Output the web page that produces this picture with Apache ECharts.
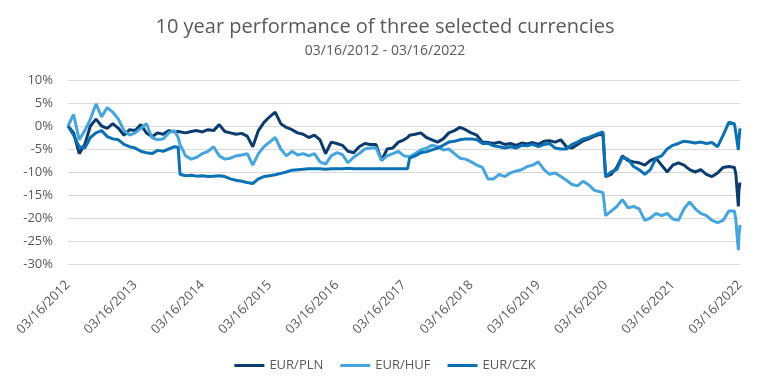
<!DOCTYPE html>
<html>
<head>
<meta charset="utf-8">
<script src="https://cdn.jsdelivr.net/npm/echarts@6/dist/echarts.min.js"></script>
<style>
html,body{margin:0;padding:0;background:#fff;}
#chart{width:770px;height:386px;}
</style>
</head>
<body>
<div id="chart"></div>
<script>
const titleText = '10 year performance of three selected currencies';
const subtitleText = '03/16/2012 - 03/16/2022';
const seriesNames = ['EUR/PLN', 'EUR/HUF', 'EUR/CZK'];
const seriesColors = ['#0c3c6e', '#45a5dc', '#0a72b4'];
const yTicks = [-30, -25, -20, -15, -10, -5, 0, 5, 10];
const xTickLabels = ['03/16/2012','03/16/2013','03/16/2014','03/16/2015','03/16/2016','03/16/2017','03/16/2018','03/16/2019','03/16/2020','03/16/2021','03/16/2022'];

const dates = [
  '2012-03-16','2012-04-16','2012-05-16','2012-06-16','2012-07-16','2012-08-16','2012-09-16','2012-10-16','2012-11-16','2012-12-16',
  '2013-01-16','2013-02-16','2013-03-16','2013-04-16','2013-05-16','2013-06-16','2013-07-16','2013-08-16','2013-09-16','2013-10-16',
  '2013-11-06','2013-11-16','2013-12-16',
  '2014-01-16','2014-02-16','2014-03-16','2014-04-16','2014-05-16','2014-06-16','2014-07-16','2014-08-16','2014-09-16','2014-10-16','2014-11-16','2014-12-16',
  '2015-01-16','2015-02-16','2015-03-16','2015-04-16','2015-05-16','2015-06-16','2015-07-16','2015-08-16','2015-09-16','2015-10-16','2015-11-16','2015-12-16',
  '2016-01-16','2016-02-16','2016-03-16','2016-04-16','2016-05-16','2016-06-16','2016-07-16','2016-08-16','2016-09-16','2016-10-16','2016-11-16','2016-12-16',
  '2017-01-16','2017-02-16','2017-03-16','2017-04-05','2017-04-16','2017-05-16','2017-06-16','2017-07-16','2017-08-16','2017-09-16','2017-10-16','2017-11-16','2017-12-16',
  '2018-01-16','2018-02-16','2018-03-16','2018-04-16','2018-05-16','2018-06-16','2018-07-16','2018-08-16','2018-09-16','2018-10-16','2018-11-16','2018-12-16',
  '2019-01-16','2019-02-16','2019-03-16','2019-04-16','2019-05-16','2019-06-16','2019-07-16','2019-08-16','2019-09-16','2019-10-16','2019-11-16','2019-12-16',
  '2020-01-16','2020-02-16','2020-03-02','2020-03-16','2020-04-16','2020-05-16','2020-06-16','2020-07-16','2020-08-16','2020-09-16','2020-10-16','2020-11-16','2020-12-16',
  '2021-01-16','2021-02-16','2021-03-16','2021-04-16','2021-05-16','2021-06-16','2021-07-16','2021-08-16','2021-09-16','2021-10-16','2021-11-16','2021-12-16',
  '2022-01-16','2022-02-16','2022-02-24','2022-03-07','2022-03-10','2022-03-16'
];

const eurPln = [
  0, -1.5, -6.0, -4.0, 0, 1.5, 0, -0.5, 0.5, -0.5,
  -2.0, -0.8, -1.0, 0.3, -1.5, -2.3, -1.5, -1.8, -1.0, -1.3,
  -1.2, -1.0, -1.5,
  -1.2, -1.0, -1.3, -0.8, -1.0, 0.3, -1.2, -1.5, -1.8, -1.6, -2.2, -4.5,
  -1.0, 0.8, 2.0, 3.0, 0.5, -0.3, -0.8, -1.5, -1.8, -2.5, -2.0, -3.0,
  -6.0, -3.5, -3.8, -4.2, -5.5, -5.8, -4.5, -3.8, -4.0, -4.0, -7.5, -5.0,
  -4.8, -3.5, -3.0, -2.5, -2.0, -1.8, -1.5, -2.5, -3.0, -3.5, -2.8, -1.5, -1.0,
  -0.3, -0.8, -1.5, -2.0, -3.5, -3.6, -3.8, -3.5, -4.0, -3.8, -4.2, -3.7,
  -3.9, -3.6, -4.0, -3.3, -3.2, -3.5, -3.0, -4.5, -4.8, -4.0, -3.2, -2.8,
  -2.2, -1.8, -2.0, -11.0, -10.5, -9.0, -6.5, -7.5, -7.8, -8.0, -8.5, -7.5, -7.0,
  -8.5, -10.0, -8.5, -8.0, -8.5, -9.5, -10.0, -9.5, -10.5, -11.0, -10.2, -9.0,
  -8.8, -9.0, -10.5, -17.5, -14.0, -12.3
];

const eurHuf = [
  0, 2.5, -3.0, -1.0, 1.5, 4.8, 2.0, 4.0, 3.0, 1.5,
  -1.0, -2.0, -1.5, -0.5, 0.5, -2.5, -3.0, -2.8, -1.5, -1.0,
  -2.5, -4.0, -6.5,
  -7.2, -6.8, -6.0, -5.5, -4.5, -6.5, -7.2, -7.0, -6.5, -6.3, -6.0, -8.5,
  -6.0, -4.5, -3.5, -2.5, -5.0, -6.5, -5.5, -6.3, -6.0, -6.5, -6.0, -7.8,
  -8.3, -6.5, -5.8, -6.2, -8.0, -6.8, -6.0, -5.0, -4.8, -4.7, -7.5, -6.5,
  -6.0, -5.5, -6.5, -6.6, -6.7, -6.0, -5.2, -4.8, -4.2, -4.5, -5.2, -5.0, -6.0,
  -7.0, -7.2, -7.8, -8.5, -9.0, -11.5, -11.5, -10.5, -11.0, -10.2, -9.8, -9.5,
  -8.8, -8.5, -7.8, -9.5, -10.5, -10.2, -11.0, -11.8, -12.7, -13.0, -12.0, -12.8,
  -14.0, -14.3, -14.5, -19.5, -18.5, -17.5, -16.0, -17.8, -17.5, -18.0, -20.5, -20.0, -19.0,
  -19.5, -19.0, -20.2, -20.5, -18.0, -16.5, -18.0, -19.0, -19.5, -20.5, -21.0, -20.5,
  -18.5, -18.5, -20.5, -27.0, -24.0, -21.5
];

const eurCzk = [
  0, -2.0, -4.5, -4.8, -2.5, -1.5, -1.0, -2.3, -2.8, -3.0,
  -4.0, -4.5, -4.8, -5.5, -5.8, -6.0, -5.3, -5.5, -5.0, -4.5,
  -4.6, -10.5, -10.8,
  -10.7, -10.9, -10.8, -11.0, -10.9, -10.8, -11.0, -11.5, -11.8, -12.0, -12.3, -12.5,
  -11.5, -11.0, -10.8, -10.6, -10.3, -10.0, -9.6, -9.5, -9.4, -9.3, -9.3, -9.3,
  -9.4, -9.3, -9.3, -9.3, -9.2, -9.3, -9.3, -9.3, -9.3, -9.3, -9.3, -9.3,
  -9.3, -9.3, -9.3, -9.3, -7.0, -6.5, -5.8, -5.6, -5.2, -4.8, -4.2, -3.5, -3.3,
  -3.0, -2.8, -2.8, -3.0, -3.8, -3.8, -4.3, -4.5, -4.8, -4.5, -4.8, -4.2,
  -4.3, -4.0, -4.5, -4.0, -3.8, -4.8, -5.0, -5.0, -4.0, -3.5, -2.8, -2.5,
  -2.0, -1.5, -1.3, -11.0, -10.0, -9.5, -6.8, -7.2, -8.8, -9.5, -10.5, -9.5, -7.0,
  -6.5, -5.0, -4.2, -3.8, -3.3, -3.5, -3.7, -3.5, -3.8, -3.6, -4.5, -2.0,
  0.8, 0.5, -1.5, -5.2, -3.0, -0.5
];

function yearsSinceStart(d) {
  const p = d.split('-').map(Number);
  return (p[0] - 2012) + (p[1] - 3) / 12 + (p[2] - 16) / 365.25;
}
const xs = dates.map(yearsSinceStart);
function pairs(vals) { return vals.map((v, i) => [xs[i], v]); }

const FONT = '"Open Sans", "Noto Sans", sans-serif';
const chart = echarts.init(document.getElementById('chart'), null, {renderer: 'canvas'});
chart.setOption({
  animation: false,
  backgroundColor: '#ffffff',
  title: [
    {text: titleText, left: 'center', top: 12, textStyle: {fontFamily: FONT, fontSize: 20, fontWeight: 'normal', color: '#595959'}},
    {text: subtitleText, left: 'center', top: 39, textStyle: {fontFamily: FONT, fontSize: 14, fontWeight: 'normal', color: '#595959'}}
  ],
  legend: {
    data: seriesNames,
    left: 'center',
    top: 354,
    icon: 'rect',
    itemWidth: 30,
    itemHeight: 3,
    itemGap: 17,
    textStyle: {fontFamily: FONT, fontSize: 13, color: '#595959'}
  },
  grid: {left: 68, right: 30, top: 80, bottom: 122, containLabel: false},
  xAxis: {
    type: 'value', min: 0, max: 10, interval: 1,
    axisLine: {show: false, onZero: false},
    axisTick: {show: false},
    splitLine: {show: false},
    axisLabel: {
      rotate: 45, margin: 19, fontFamily: FONT, fontSize: 13, color: '#595959',
      formatter: v => xTickLabels[Math.round(v)] || ''
    }
  },
  yAxis: {
    type: 'value', min: yTicks[0], max: yTicks[yTicks.length - 1], interval: 5,
    axisLine: {show: false},
    axisTick: {show: false},
    splitLine: {lineStyle: {color: '#d9d9d9', width: 1}},
    axisLabel: {margin: 15, fontFamily: FONT, fontSize: 13, color: '#595959', formatter: v => v + '%'}
  },
  series: [eurPln, eurHuf, eurCzk].map((vals, i) => ({
    name: seriesNames[i],
    type: 'line',
    data: pairs(vals),
    showSymbol: false,
    symbol: 'none',
    color: seriesColors[i],
    lineStyle: {width: 3, color: seriesColors[i]}
  }))
});
</script>
</body>
</html>
